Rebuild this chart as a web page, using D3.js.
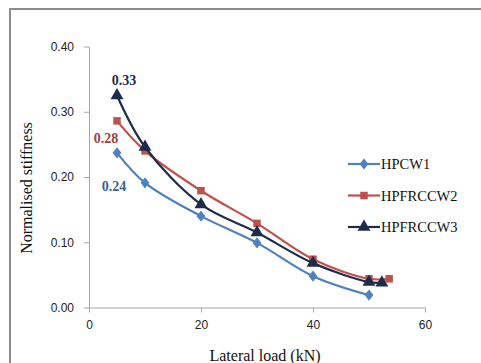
<!DOCTYPE html>
<html>
<head>
<meta charset="utf-8">
<script src="https://cdn.jsdelivr.net/npm/d3@7"></script>
<style>
  body { margin: 0; background: #fff; }
</style>
</head>
<body>
<svg id="chart" width="481" height="363"></svg>
<script>
// Data
var seriesNames = ['HPCW1', 'HPFRCCW2', 'HPFRCCW3'];
var loadW1 = [5, 10, 20, 30, 40, 50];
var stiffW1 = [0.237, 0.191, 0.140, 0.099, 0.048, 0.019];
var loadW2 = [5, 10, 20, 30, 40, 50, 53.6];
var stiffW2 = [0.286, 0.240, 0.179, 0.129, 0.074, 0.044, 0.044];
var loadW3 = [5, 10, 20, 30, 40, 50, 52.3];
var stiffW3 = [0.325, 0.246, 0.158, 0.115, 0.068, 0.039, 0.038];
var xTicks = [0, 20, 40, 60];
var yTicks = [0, 0.1, 0.2, 0.3, 0.4];
var peakLabels = ['0.24', '0.28', '0.33'];

var colors = ['#4f81bd', '#c0504d', '#1f2b4a'];
var labelColors = ['#3b5f91', '#a2403d', '#1f2b4a'];

var svg = d3.select('#chart');

// outer frame
svg.append('rect')
  .attr('x', 10).attr('y', 9).attr('width', 480).attr('height', 370)
  .attr('fill', 'none').attr('stroke', '#8c8c8c').attr('stroke-width', 2);

var x = d3.scaleLinear().domain([0, 60]).range([89, 425]);
var y = d3.scaleLinear().domain([0, 0.4]).range([307.5, 46.5]);

// axes
var xAxis = svg.append('g').attr('transform', 'translate(0,307.5)')
  .call(d3.axisBottom(x).tickValues(xTicks).tickSize(5).tickSizeOuter(0).tickPadding(8));
var yAxis = svg.append('g').attr('transform', 'translate(89,0)')
  .call(d3.axisLeft(y).tickValues(yTicks).tickSize(5).tickSizeOuter(0).tickPadding(10)
    .tickFormat(d3.format('.2f')));

[xAxis, yAxis].forEach(function(a) {
  a.select('.domain').attr('stroke', '#a6a6a6');
  a.selectAll('.tick line').attr('stroke', '#a6a6a6');
  a.selectAll('.tick text')
    .attr('fill', '#222')
    .style('font-family', 'Liberation Sans, Arial, sans-serif')
    .style('font-size', '12px');
});

// axis titles
svg.append('text')
  .attr('x', 265).attr('y', 361)
  .attr('text-anchor', 'middle')
  .style('font-family', 'Liberation Serif, Times New Roman, serif')
  .style('font-size', '16px')
  .attr('fill', '#111')
  .text('Lateral load (kN)');

svg.append('text')
  .attr('transform', 'translate(32,188) rotate(-90)')
  .attr('text-anchor', 'middle')
  .style('font-family', 'Liberation Serif, Times New Roman, serif')
  .style('font-size', '16px')
  .attr('fill', '#111')
  .text('Normalised stiffness');

var loads = [loadW1, loadW2, loadW3];
var stiffs = [stiffW1, stiffW2, stiffW3];

var line = d3.line()
  .x(function(d) { return x(d[0]); })
  .y(function(d) { return y(d[1]); })
  .curve(d3.curveCatmullRom.alpha(0.5));

var symbols = [d3.symbolDiamond, d3.symbolSquare, d3.symbolTriangle];
var symbolSizes = [50, 56, 72];

function drawMarker(g, i, cx, cy) {
  g.append('path')
    .attr('d', d3.symbol().type(symbols[i]).size(symbolSizes[i])())
    .attr('transform', 'translate(' + cx + ',' + cy + ')' + (i == 0 ? ' scale(1.15,0.85)' : ''))
    .attr('fill', colors[i]);
}

for (var i = 0; i < 3; i++) {
  var pts = d3.zip(loads[i], stiffs[i]);
  var g = svg.append('g');
  g.append('path')
    .datum(pts)
    .attr('d', line)
    .attr('fill', 'none')
    .attr('stroke', colors[i])
    .attr('stroke-width', 2.2);
  pts.forEach(function(p) {
    drawMarker(g, i, x(p[0]), y(p[1]));
  });
}

// peak value labels
var labelPos = [[114, 191], [106, 143], [124, 85]];
for (var i = 0; i < 3; i++) {
  svg.append('text')
    .attr('x', labelPos[i][0]).attr('y', labelPos[i][1])
    .attr('text-anchor', 'middle')
    .style('font-family', 'Liberation Serif, Times New Roman, serif')
    .style('font-size', '14px')
    .style('font-weight', 'bold')
    .attr('fill', labelColors[i])
    .text(peakLabels[i]);
}

// legend
for (var i = 0; i < 3; i++) {
  var ly = 164 + i * 31.5;
  var lg = svg.append('g');
  lg.append('line')
    .attr('x1', 348).attr('x2', 380).attr('y1', ly).attr('y2', ly)
    .attr('stroke', colors[i]).attr('stroke-width', 2.2);
  drawMarker(lg, i, 364, ly);
  lg.append('text')
    .attr('x', 381).attr('y', ly + 5)
    .style('font-family', 'Liberation Serif, Times New Roman, serif')
    .style('font-size', '14.5px')
    .attr('fill', '#111')
    .text(seriesNames[i]);
}
</script>
</body>
</html>
